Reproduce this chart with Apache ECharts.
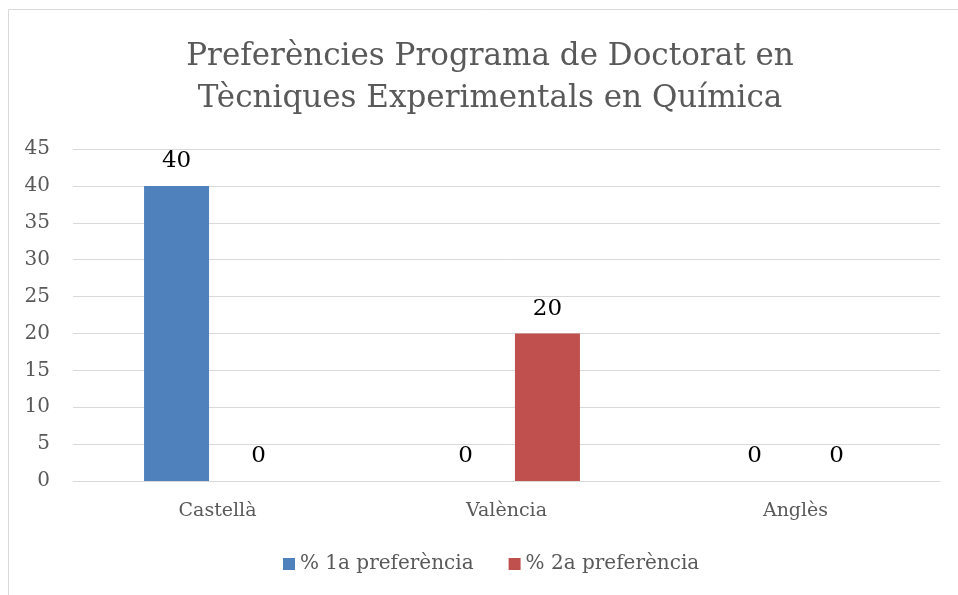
<!DOCTYPE html>
<html>
<head>
<meta charset="utf-8">
<script src="https://cdn.jsdelivr.net/npm/echarts@6/dist/echarts.min.js"></script>
<style>
  html, body { margin: 0; padding: 0; background: #fff; }
  #chart { width: 958px; height: 595px; }
</style>
</head>
<body>
<div id="chart"></div>
<script>
var categories = ['Castellà', 'València', 'Anglès'];
var seriesNames = ['% 1a preferència', '% 2a preferència'];
var firstPref = [40, 0, 0];
var secondPref = [0, 20, 0];

var FONT = 'DejaVu Serif';

var chart = echarts.init(document.getElementById('chart'));
var option = {
    animation: false,
    color: ['#4f81bd', '#c0504d'],
    textStyle: { fontFamily: FONT },
    title: {
        text: 'Preferències Programa de Doctorat en\nTècniques Experimentals en Química',
        left: 485,
        top: 31,
        textAlign: 'center',
        textStyle: {
            fontFamily: FONT,
            fontSize: 31,
            fontWeight: 'normal',
            color: '#595959',
            lineHeight: 42
        }
    },
    graphic: [
        {
            type: 'polyline',
            shape: { points: [[8.5, 595], [8.5, 9.5], [958, 9.5]] },
            style: { stroke: '#d9d9d9', lineWidth: 1, fill: null },
            silent: true
        }
    ],
    legend: {
        data: seriesNames,
        bottom: 16,
        left: 278,
        itemWidth: 12,
        itemHeight: 12,
        itemGap: 35,
        icon: 'rect',
        textStyle: { fontFamily: FONT, fontSize: 20, color: '#595959' }
    },
    grid: {
        left: 73,
        right: 18,
        top: 149,
        bottom: 114
    },
    xAxis: {
        type: 'category',
        data: categories,
        axisLine: { lineStyle: { color: '#d9d9d9' } },
        axisTick: { show: false },
        axisLabel: { fontFamily: FONT, fontSize: 19, color: '#595959', margin: 21 }
    },
    yAxis: {
        type: 'value',
        min: 0,
        max: 45,
        interval: 5,
        axisLine: { show: false },
        axisTick: { show: false },
        splitLine: { lineStyle: { color: '#d9d9d9', width: 1 } },
        axisLabel: { fontFamily: FONT, fontSize: 20, color: '#595959', margin: 23 }
    },
    series: [
        {
            name: seriesNames[0],
            type: 'bar',
            barWidth: 65,
            barGap: '26%',
            data: firstPref,
            label: { show: true, position: 'top', distance: 13, fontFamily: FONT, fontSize: 23, color: '#000' }
        },
        {
            name: seriesNames[1],
            type: 'bar',
            barWidth: 65,
            data: secondPref,
            label: { show: true, position: 'top', distance: 13, fontFamily: FONT, fontSize: 23, color: '#000' }
        }
    ]
};
chart.setOption(option);
</script>
</body>
</html>
